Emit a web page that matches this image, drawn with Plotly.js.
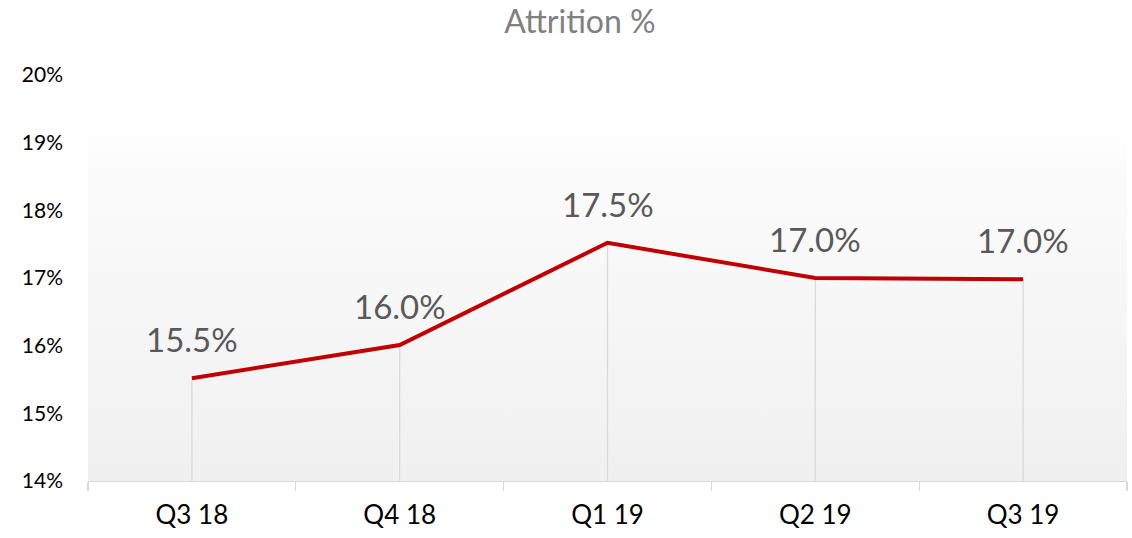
<!DOCTYPE html>
<html>
<head>
<meta charset="utf-8">
<script src="https://cdn.plot.ly/plotly-3.0.1.min.js"></script>
<style>
  html, body { margin: 0; padding: 0; background: #ffffff; }
  #wrap { position: relative; width: 1132px; height: 538px; }
  #bg { position: absolute; left: 88px; top: 75px; width: 1039px; height: 406px;
        background: linear-gradient(to bottom, #ffffff 0%, #ffffff 10%, #fbfbfb 25%, #f0f0f0 100%); }
  #chart { position: absolute; left: 0; top: 0; width: 1132px; height: 538px; }
</style>
</head>
<body>
<div id="wrap">
  <div id="bg"></div>
  <div id="chart"></div>
</div>
<script>
const categories = ["Q3 18", "Q4 18", "Q1 19", "Q2 19", "Q3 19"];
const attrition = [15.52, 16.01, 17.52, 17.00, 16.98];
const labels = ["15.5%", "16.0%", "17.5%", "17.0%", "17.0%"];
const yTickVals = [14, 15, 16, 17, 18, 19, 20];
const yTickText = ["14%", "15%", "16%", "17%", "18%", "19%", "20%"];
const yMin = 14;

const FONT = "Lato, 'Open Sans', sans-serif";
const dropDepth = attrition.map(v => v - yMin);

const trace = {
  x: categories,
  y: attrition,
  type: "scatter",
  mode: "lines",
  line: { color: "#c00000", width: 4 },
  error_y: {
    type: "data", symmetric: false, array: attrition.map(() => 0),
    arrayminus: dropDepth, color: "#d9d9d9", thickness: 1.3, width: 0
  },
  hoverinfo: "skip"
};

const annotations = categories.map((c, i) => ({
  x: c, y: attrition[i], xref: "x", yref: "y",
  text: labels[i], showarrow: false,
  xanchor: "center", yanchor: "middle", yshift: 39,
  font: { family: FONT, size: 33, color: "#595959" }
}));

const layout = {
  width: 1132, height: 538,
  margin: { l: 88, r: 5, t: 75, b: 57 },
  paper_bgcolor: "rgba(0,0,0,0)",
  plot_bgcolor: "rgba(0,0,0,0)",
  showlegend: false,
  annotations: annotations,
  title: {
    text: "Attrition %",
    font: { family: FONT, size: 32, color: "#808080" },
    x: 580 / 1132, xref: "container", xanchor: "center",
    y: 1 - 22 / 538, yref: "container", yanchor: "middle"
  },
  xaxis: {
    type: "category",
    range: [-0.5, 4.5],
    tickson: "boundaries",
    ticks: "outside", ticklen: 9, tickcolor: "#d9d9d9", tickwidth: 1.3,
    showline: true, linecolor: "#d9d9d9", linewidth: 1.3,
    showgrid: false, zeroline: false,
    tickfont: { family: FONT, size: 26, color: "#000000" },
    ticklabelstandoff: 10,
    fixedrange: true
  },
  yaxis: {
    range: [14, 20],
    tickvals: yTickVals, ticktext: yTickText,
    showgrid: false, zeroline: false, showline: false,
    ticks: "",
    ticklabelstandoff: 24,
    tickfont: { family: FONT, size: 21, color: "#000000" },
    fixedrange: true
  }
};

Plotly.newPlot("chart", [trace], layout, { displayModeBar: false, staticPlot: true });
</script>
</body>
</html>
